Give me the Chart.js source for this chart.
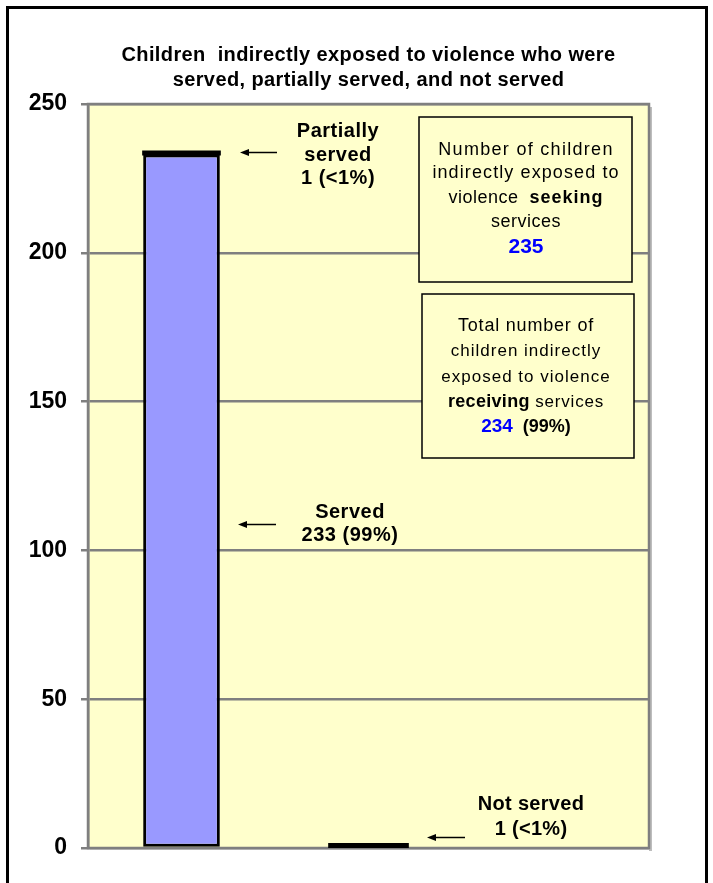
<!DOCTYPE html>
<html><head><meta charset="utf-8">
<script src="https://cdn.jsdelivr.net/npm/chart.js@4"></script>
<style>html,body{margin:0;padding:0;background:#fff}canvas{display:block}</style>
</head><body><canvas id="c" width="713" height="883"></canvas>
<script>
// ---- data ----
const categories = ['Served / Partially served', 'Not served', ''];
const servedValues = [233, null, null];
const partialValues = [1, null, null];
const notServedValues = [null, 1, null];
const yTicks = [0, 50, 100, 150, 200, 250];
const titleLines = ['Children  indirectly exposed to violence who were', 'served, partially served, and not served'];
const seekingTotal = 235;
const receivingTotal = 234;
const receivingPct = '99%';

const YELLOW = '#FFFFCC';
const GRAY = '#7f7f7f';
const FONT = '"Liberation Sans", Arial, sans-serif';

function drawRich(ctx, parts, cx, y) {
  let total = 0;
  parts.forEach(p => { ctx.font = p.font; ctx.letterSpacing = p.ls || '0px'; p.w = ctx.measureText(p.t).width; total += p.w; });
  let x = cx - total / 2;
  ctx.textAlign = 'left'; ctx.textBaseline = 'middle';
  parts.forEach(p => { ctx.font = p.font; ctx.letterSpacing = p.ls || '0px'; ctx.fillStyle = p.color || '#000'; ctx.fillText(p.t, x, y); x += p.w; });
  ctx.letterSpacing = '0px';
}
function arrow(ctx, x1, x2, y) {
  ctx.save();
  ctx.strokeStyle = '#000'; ctx.fillStyle = '#000'; ctx.lineWidth = 1.5;
  ctx.beginPath(); ctx.moveTo(x1, y); ctx.lineTo(x2 + 6, y); ctx.stroke();
  ctx.beginPath(); ctx.moveTo(x2, y); ctx.lineTo(x2 + 9, y - 3.5); ctx.lineTo(x2 + 9, y + 3.5); ctx.closePath(); ctx.fill();
  ctx.restore();
}

const bgPlugin = {
  id: 'bg',
  beforeDraw(chart) {
    const {ctx, chartArea: a} = chart;
    ctx.save();
    ctx.fillStyle = '#fff'; ctx.fillRect(0, 0, chart.width, chart.height);
    ctx.fillStyle = '#bdbdbd';
    ctx.fillRect(a.right, a.top + 3, 3, a.bottom - a.top);
    ctx.fillStyle = YELLOW; ctx.fillRect(a.left, a.top, a.right - a.left, a.bottom - a.top);
    ctx.strokeStyle = GRAY; ctx.lineWidth = 2.5;
    ctx.strokeRect(a.left, a.top, a.right - a.left, a.bottom - a.top);
    ctx.restore();
  },
  afterDraw(chart) {
    const {ctx, chartArea: a, scales} = chart;
    const y = scales.y;
    ctx.save();
    drawRich(ctx, [{t: titleLines[0], font: 'bold 20px ' + FONT, ls: '0.4px'}], (a.left + a.right) / 2, 55);
    drawRich(ctx, [{t: titleLines[1], font: 'bold 20px ' + FONT, ls: '0.4px'}], (a.left + a.right) / 2, 80);

    const B = 'bold 20px ' + FONT;
    drawRich(ctx, [{t: 'Partially', font: B, ls: '0.5px'}], 338, 131);
    drawRich(ctx, [{t: 'served', font: B, ls: '0.5px'}], 338, 155);
    drawRich(ctx, [{t: partialValues[0] + ' (<1%)', font: B, ls: '0.5px'}], 338, 178);
    arrow(ctx, 277, 240, Math.round(y.getPixelForValue(servedValues[0] + partialValues[0])) + 0.5);
    drawRich(ctx, [{t: 'Served', font: B, ls: '0.5px'}], 350, 512);
    drawRich(ctx, [{t: servedValues[0] + ' (99%)', font: B, ls: '0.5px'}], 350, 535);
    arrow(ctx, 276, 238, 524.5);
    drawRich(ctx, [{t: 'Not served', font: B, ls: '0.3px'}], 531, 804);
    drawRich(ctx, [{t: notServedValues[1] + ' (<1%)', font: B, ls: '0.3px'}], 531, 829);
    arrow(ctx, 465, 427, 837.5);

    ctx.fillStyle = YELLOW; ctx.strokeStyle = '#000'; ctx.lineWidth = 1.5;
    ctx.fillRect(419, 117, 213, 165); ctx.strokeRect(419, 117, 213, 165);
    const R1 = '18px ' + FONT;
    drawRich(ctx, [{t: 'Number of children', font: R1, ls: '1.3px'}], 526, 150);
    drawRich(ctx, [{t: 'indirectly exposed to', font: R1, ls: '1.1px'}], 526, 173);
    drawRich(ctx, [{t: 'violence  ', font: R1, ls: '0.5px'}, {t: 'seeking', font: 'bold 18px ' + FONT, ls: '1px'}], 526, 198);
    drawRich(ctx, [{t: 'services', font: R1, ls: '0.5px'}], 526, 222);
    drawRich(ctx, [{t: String(seekingTotal), font: 'bold 21px ' + FONT, color: '#0000FF'}], 526, 247);

    ctx.fillStyle = YELLOW; ctx.strokeStyle = '#000'; ctx.lineWidth = 1.5;
    ctx.fillRect(422, 294, 212, 164); ctx.strokeRect(422, 294, 212, 164);
    const R2 = '17px ' + FONT;
    drawRich(ctx, [{t: 'Total number of', font: '18px ' + FONT, ls: '0.8px'}], 526, 326);
    drawRich(ctx, [{t: 'children indirectly', font: R2, ls: '1px'}], 526, 351);
    drawRich(ctx, [{t: 'exposed to violence', font: R2, ls: '1px'}], 526, 377);
    drawRich(ctx, [{t: 'receiving', font: 'bold 18px ' + FONT, ls: '0.3px'}, {t: ' services', font: R2, ls: '0.8px'}], 526, 402);
    drawRich(ctx, [{t: String(receivingTotal), font: 'bold 19px ' + FONT, color: '#0000FF'}, {t: '  (' + receivingPct + ')', font: 'bold 18px ' + FONT}], 526, 427);

    ctx.strokeStyle = '#000'; ctx.lineWidth = 3;
    ctx.beginPath();
    ctx.moveTo(7.5, chart.height + 5); ctx.lineTo(7.5, 7.5); ctx.lineTo(706.5, 7.5); ctx.lineTo(706.5, chart.height + 5);
    ctx.stroke();
    ctx.restore();
  }
};

new Chart(document.getElementById('c'), {
  type: 'bar',
  data: {
    labels: categories,
    datasets: [
      {label: 'Served', data: servedValues, backgroundColor: '#9999FF', borderColor: '#000', borderWidth: 3, borderSkipped: false, inflateAmount: 0},
      {label: 'Partially served', data: partialValues, backgroundColor: '#000', borderWidth: 0, inflateAmount: 1},
      {label: 'Not served', data: notServedValues, backgroundColor: '#000', borderWidth: 0, inflateAmount: 2}
    ]
  },
  options: {
    responsive: false,
    animation: false,
    devicePixelRatio: 1,
    layout: {padding: {left: 0, right: 64, top: 104, bottom: 35}},
    datasets: {bar: {barPercentage: 0.41, categoryPercentage: 1}},
    plugins: {legend: {display: false}, title: {display: false}, tooltip: {enabled: false}},
    scales: {
      x: {display: false, stacked: true},
      y: {
        stacked: true, min: 0, max: 250,
        afterBuildTicks(s) { s.ticks = yTicks.map(v => ({value: v})); },
        afterFit(s) { s.width = 88; },
        grid: {color: GRAY, lineWidth: 2.5, tickLength: 7, drawTicks: true},
        border: {display: true, color: GRAY, width: 2.5},
        ticks: {color: '#000', font: {family: FONT, size: 23, weight: 'bold'}, padding: 14}
      }
    }
  },
  plugins: [bgPlugin]
});
</script>
</body></html>
